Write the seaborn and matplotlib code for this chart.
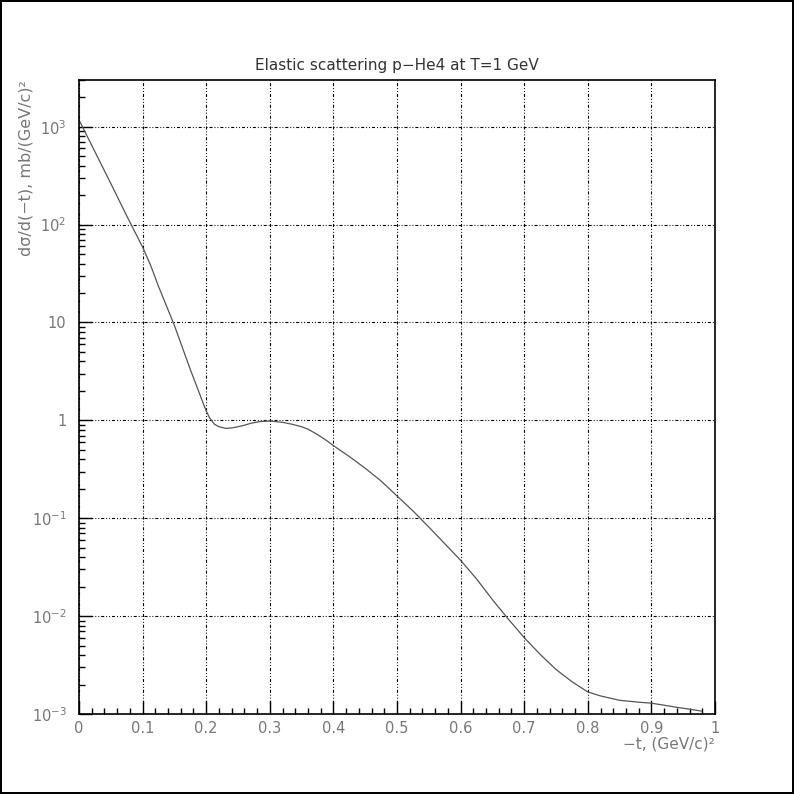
import numpy as np
import pandas as pd
import matplotlib
matplotlib.use("Agg")
import matplotlib.pyplot as plt
from matplotlib.ticker import FixedLocator, LogLocator, NullFormatter, MultipleLocator
import seaborn as sns

# ---- data ----
t_values = [0.000, 0.025, 0.050, 0.075, 0.100, 0.1125, 0.125, 0.150, 0.175, 0.185,
            0.195, 0.200, 0.205, 0.213, 0.220, 0.231, 0.240, 0.250, 0.260, 0.270,
            0.285, 0.300, 0.320, 0.335, 0.350, 0.360, 0.375, 0.390, 0.400, 0.425,
            0.450, 0.475, 0.500, 0.525, 0.550, 0.575, 0.600, 0.625, 0.651, 0.675,
            0.700, 0.725, 0.750, 0.775, 0.800, 0.820, 0.850, 0.880, 0.900, 0.920,
            0.940, 0.960, 0.979]
dsigma = [1175, 556, 263, 123, 58.9, 38.5, 23.4, 9.33, 3.31, 2.24,
          1.51, 1.253, 1.07, 0.912, 0.861, 0.828, 0.836, 0.861, 0.891, 0.933,
          0.973, 0.984, 0.955, 0.912, 0.861, 0.813, 0.716, 0.617, 0.552, 0.427,
          0.324, 0.240, 0.169, 0.119, 0.0813, 0.0550, 0.0372, 0.0240, 0.01445, 0.00933,
          0.00603, 0.00407, 0.00285, 0.00214, 0.00168, 0.00153, 0.00138, 0.00132, 0.00129, 0.00123,
          0.00117, 0.00112, 0.00107]

x_ticks = [0, 0.1, 0.2, 0.3, 0.4, 0.5, 0.6, 0.7, 0.8, 0.9, 1.0]
x_tick_labels = ["0", "0.1", "0.2", "0.3", "0.4", "0.5", "0.6", "0.7", "0.8", "0.9", "1"]
y_ticks = [1e-3, 1e-2, 1e-1, 1, 10, 1e2, 1e3]
y_tick_labels = [r"$10^{-3}$", r"$10^{-2}$", r"$10^{-1}$", "1", "10", r"$10^{2}$", r"$10^{3}$"]

title = "Elastic scattering p\u2212He4 at T=1 GeV"
xlabel = "\u2212t, (GeV/c)\u00b2"
ylabel = "d\u03c3/d(\u2212t), mb/(GeV/c)\u00b2"

df = pd.DataFrame({"t": t_values, "ds": dsigma})

sns.set_style("ticks")
plt.rcParams["font.family"] = ["DejaVu Sans"]
plt.rcParams["mathtext.default"] = "regular"
plt.rcParams["lines.scale_dashes"] = False

fig = plt.figure(figsize=(7.94, 7.94), dpi=100, edgecolor="black", linewidth=1.5)
ax = fig.add_axes([79 / 794, 1 - 714 / 794, 636 / 794, 634 / 794])

sns.lineplot(data=df, x="t", y="ds", ax=ax, color="#555555", linewidth=0.9)

ax.set_yscale("log")
ax.set_xlim(0, 1)
ax.set_ylim(1e-3, 3000)

ax.xaxis.set_major_locator(FixedLocator(x_ticks))
ax.set_xticklabels(x_tick_labels)
ax.xaxis.set_minor_locator(MultipleLocator(0.02))
ax.yaxis.set_major_locator(FixedLocator(y_ticks))
ax.set_yticklabels(y_tick_labels)
ax.yaxis.set_minor_locator(LogLocator(base=10, subs=np.arange(2, 10), numticks=20))
ax.yaxis.set_minor_formatter(NullFormatter())

grid_style = (0, (2.2, 1.4, 0.7, 1.4, 0.7, 1.4))
ax.grid(True, which="major", color="black", linewidth=0.8, linestyle=grid_style)

ax.tick_params(axis="both", which="major", direction="in", length=9.5, width=1,
               color="black", labelsize=10.5, labelcolor="#777777")
ax.tick_params(axis="both", which="minor", direction="in", length=4.5, width=1, color="black")
ax.tick_params(axis="x", which="both", top=False, pad=5)
ax.tick_params(axis="y", which="both", right=False, pad=9)

for s in ax.spines.values():
    s.set_color("black")
    s.set_linewidth(1.2)

ax.set_title(title, fontsize=11, color="#333333", pad=7)
ax.set_xlabel(xlabel, fontsize=11, color="#777777", loc="right")
ax.xaxis.set_label_coords(1.0, -0.036)
ax.set_ylabel(ylabel, fontsize=11.5, color="#777777", loc="top")
ax.yaxis.set_label_coords(-0.072, 1.0)

fig.savefig("out.png", dpi=100, edgecolor=fig.get_edgecolor())
